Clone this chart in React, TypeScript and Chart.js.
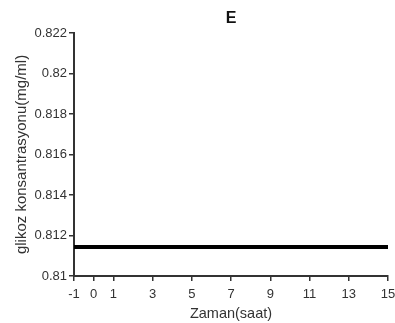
import React, { useEffect, useRef } from "react";
import { Chart, registerables } from "chart.js";

Chart.register(...registerables);

const timeHours = [-1, 0, 1, 3, 5, 7, 9, 11, 13, 15];
const glucose = [0.81143, 0.81143, 0.81143, 0.81143, 0.81143, 0.81143, 0.81143, 0.81143, 0.81143, 0.81143];
const xTickValues = [-1, 0, 1, 3, 5, 7, 9, 11, 13, 15];
const yTickValues = [0.81, 0.812, 0.814, 0.816, 0.818, 0.82, 0.822];
const yTickLabels = ["0.81", "0.812", "0.814", "0.816", "0.818", "0.82", "0.822"];
const chartTitle = "E";

const FONT = "Liberation Sans, Arial, sans-serif";

const titlePlugin = {
  id: "centerTitle",
  afterDraw(chart: any) {
    const { ctx, chartArea } = chart;
    ctx.save();
    ctx.font = `bold 16px ${FONT}`;
    ctx.fillStyle = "#111111";
    ctx.textAlign = "center";
    ctx.textBaseline = "middle";
    ctx.fillText(chartTitle, (chartArea.left + chartArea.right) / 2, 19);
    ctx.restore();
  },
};

export default function App() {
  const ref = useRef<HTMLCanvasElement>(null);
  useEffect(() => {
    if (!ref.current) return;
    const axisColor = "#333333";
    const tickFont = { family: FONT, size: 13 };
    const chart = new Chart(ref.current, {
      type: "line",
      data: {
        datasets: [
          {
            data: timeHours.map((x, i) => ({ x, y: glucose[i] })),
            borderColor: "#000000",
            borderWidth: 4,
            pointRadius: 0,
            fill: false,
          },
        ],
      },
      options: {
        animation: false,
        responsive: false,
        maintainAspectRatio: false,
        layout: { padding: { left: 0, right: 2, top: 33, bottom: 0 } },
        plugins: {
          legend: { display: false },
          tooltip: { enabled: false },
          title: { display: false },
        },
        scales: {
          x: {
            type: "linear",
            min: -1,
            max: 15,
            afterBuildTicks: (s: any) => {
              s.ticks = xTickValues.map((v) => ({ value: v }));
            },
            afterFit: (s: any) => {
              s.height = 47;
              s.paddingRight = 7;
            },
            grid: { display: true, drawOnChartArea: false, drawTicks: true, tickLength: 5, color: axisColor, lineWidth: 1.5 },
            border: { display: true, color: axisColor, width: 2 },
            ticks: { color: "#333333", font: tickFont, padding: 6, maxRotation: 0, autoSkip: false },
            title: {
              display: true,
              text: "Zaman(saat)",
              color: "#333333",
              font: { family: FONT, size: 14.5 },
              padding: { top: 0, bottom: 0 },
            },
          },
          y: {
            type: "linear",
            min: 0.81,
            max: 0.822,
            afterBuildTicks: (s: any) => {
              s.ticks = yTickValues.map((v) => ({ value: v }));
            },
            afterFit: (s: any) => {
              s.width = 74;
            },
            grid: { display: true, drawOnChartArea: false, drawTicks: true, tickLength: 5, color: axisColor, lineWidth: 1.5 },
            border: { display: true, color: axisColor, width: 2 },
            ticks: {
              color: "#333333",
              font: tickFont,
              padding: 2,
              autoSkip: false,
              callback: (v: any) => {
                const i = yTickValues.findIndex((t) => Math.abs(t - Number(v)) < 1e-9);
                return i >= 0 ? yTickLabels[i] : "";
              },
            },
            title: {
              display: true,
              text: "glikoz konsantrasyonu(mg/ml)",
              color: "#333333",
              font: { family: FONT, size: 15 },
              padding: { top: 13, bottom: 0 },
            },
          },
        },
      },
      plugins: [titlePlugin],
    });
    return () => chart.destroy();
  }, []);
  return (
    <div style={{ position: "absolute", left: 0, top: 0, width: 395, height: 323, background: "#fff" }}>
      <canvas ref={ref} width={395} height={323} style={{ width: 395, height: 323 }} />
    </div>
  );
}
